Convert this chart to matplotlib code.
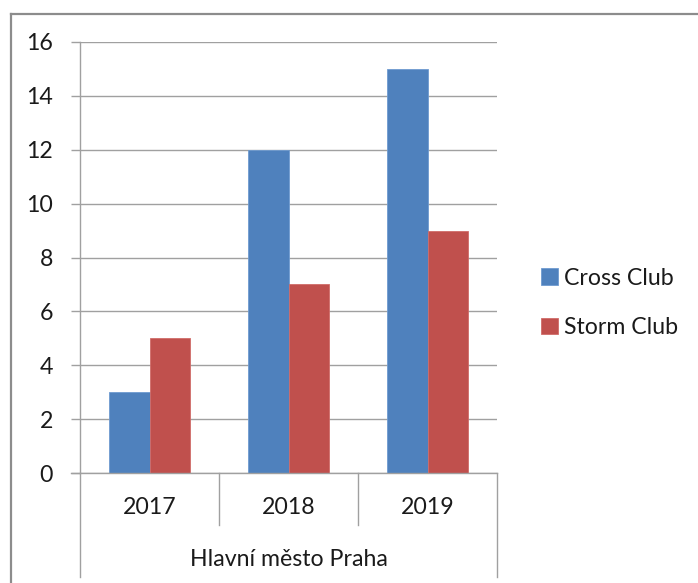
import matplotlib
matplotlib.use("Agg")
import matplotlib.pyplot as plt
from matplotlib.lines import Line2D
from matplotlib.transforms import blended_transform_factory
import numpy as np

years = ["2017", "2018", "2019"]
group_label = "Hlavní město Praha"
series_names = ["Cross Club", "Storm Club"]
cross_club = [3, 12, 15]
storm_club = [5, 7, 9]
colors = ["#4F81BD", "#C0504D"]
edge_colors = ["#6F9BD0", "#D06C69"]
yticks = [0, 2, 4, 6, 8, 10, 12, 14, 16]

plt.rcParams['font.family'] = ['Lato', 'DejaVu Sans']
FS = 16.7
GRID = "#A0A0A0"

W, H = 698, 583
fig = plt.figure(figsize=(W / 100, H / 100), dpi=100)
ax = fig.add_axes([80 / W, 1 - 473 / H, (497 - 80) / W, (473 - 42) / H])

x = np.arange(len(years))
bw = 0.288
for i, (vals, name) in enumerate(zip([cross_club, storm_club], series_names)):
    ax.bar(x + (i - 0.5) * bw, vals, width=bw, color=colors[i],
           edgecolor=edge_colors[i], linewidth=0.6, label=name, zorder=3)

ax.set_xlim(-0.5, len(years) - 0.5)
ax.set_ylim(0, 16)
ax.set_yticks(yticks)
ax.set_yticklabels([str(t) for t in yticks], fontsize=FS, color="#1a1a1a")
ax.tick_params(axis='y', length=6.5, width=1.0, color=GRID, pad=13)
ax.set_xticks([])
ax.yaxis.grid(True, color=GRID, linewidth=1.0, zorder=0)
for s in ["top", "right", "bottom"]:
    ax.spines[s].set_visible(False)
ax.spines["left"].set_color(GRID)
ax.spines["left"].set_linewidth(1.0)

ax_h = 473 - 42
trans = blended_transform_factory(ax.transData, ax.transAxes)
y_short = (473 - 525) / ax_h
y_long = (473 - 577) / ax_h
# zero line extension left and category separators
ax.plot([-0.5 - 9 / 139, len(years) - 0.5], [0, 0], color=GRID, lw=1.0,
        clip_on=False, zorder=4, transform=trans)
for b in range(len(years) + 1):
    xb = b - 0.5
    yb = y_long if b in (0, len(years)) else y_short
    ax.plot([xb, xb], [0, yb], color=GRID, lw=1.0, clip_on=False, transform=trans)
for xi, yr in zip(x, years):
    ax.text(xi, (473 - 508) / ax_h, yr, ha='center', va='center', fontsize=FS,
            color="#1a1a1a", transform=trans)
ax.text((len(years) - 1) / 2, (473 - 560) / ax_h, group_label, ha='center',
        va='center', fontsize=FS, color="#1a1a1a", transform=trans)

leg = fig.legend(loc='center left', bbox_to_anchor=(532 / W, 1 - 303 / H),
                 frameon=False, fontsize=FS, handlelength=0.7, handleheight=0.7,
                 handletextpad=0.3, labelspacing=1.25, borderaxespad=0)
for t in leg.get_texts():
    t.set_color("#1a1a1a")

# figure border (top and left)
fig.add_artist(Line2D([10.5 / W, 1], [1 - 13.5 / H, 1 - 13.5 / H],
                      transform=fig.transFigure, color="#8C8C8C", lw=1.6))
fig.add_artist(Line2D([10.5 / W, 10.5 / W], [0, 1 - 13.5 / H],
                      transform=fig.transFigure, color="#8C8C8C", lw=1.6))

fig.savefig("out.png", dpi=100)
